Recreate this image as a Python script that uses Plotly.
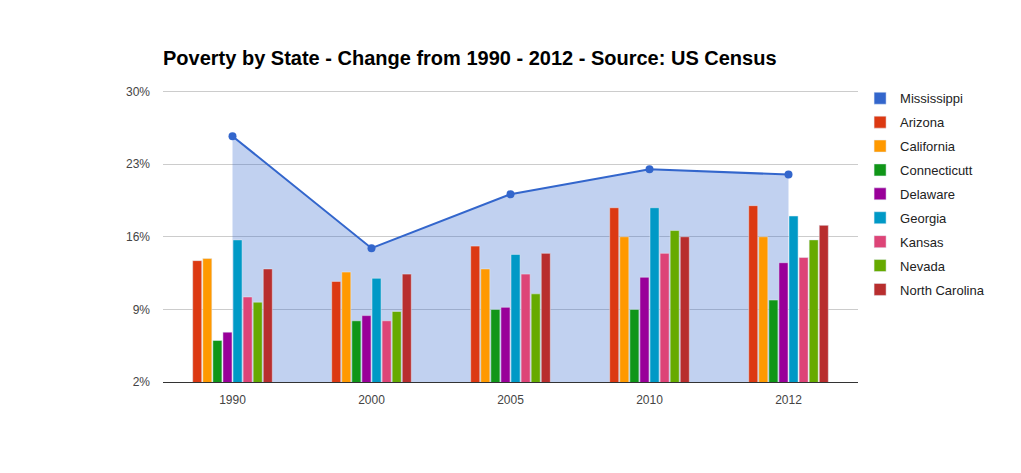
import plotly.graph_objects as go

years = ["1990", "2000", "2005", "2010", "2012"]
mississippi = [25.7, 14.9, 20.1, 22.5, 22.0]
arizona = [13.7, 11.7, 15.1, 18.8, 19.0]
california = [13.9, 12.6, 12.9, 16.0, 16.0]
connecticut = [6.0, 7.9, 9.0, 9.0, 9.9]
delaware = [6.8, 8.4, 9.2, 12.1, 13.5]
georgia = [15.7, 12.0, 14.3, 18.8, 18.0]
kansas = [10.2, 7.9, 12.4, 14.4, 14.0]
nevada = [9.7, 8.8, 10.5, 16.6, 15.7]
north_carolina = [12.9, 12.4, 14.4, 16.0, 17.1]

bar_series = [
    ("Arizona", arizona, "#dc3912"),
    ("California", california, "#ff9900"),
    ("Connecticutt", connecticut, "#109618"),
    ("Delaware", delaware, "#990099"),
    ("Georgia", georgia, "#0099c6"),
    ("Kansas", kansas, "#dd4477"),
    ("Nevada", nevada, "#66aa00"),
    ("North Carolina", north_carolina, "#b82e2e"),
]

tick_vals = [2, 9, 16, 23, 30]
tick_text = ["2%", "9%", "16%", "23%", "30%"]
y_range = [2, 30.15]

fig = go.Figure()

# Mississippi area (drawn on base axis so bars overlay it)
fig.add_trace(go.Scatter(
    x=years, y=mississippi, name="Mississippi", mode="lines+markers",
    line=dict(color="#3366cc", width=2), marker=dict(color="#3366cc", size=8),
    fill="tozeroy", fillcolor="rgba(51,102,204,0.3)",
    showlegend=False, hoverinfo="x+y+name",
))
# legend entry for Mississippi as a square swatch
fig.add_trace(go.Bar(
    x=[None], y=[None], name="Mississippi", marker_color="#3366cc",
    legendgroup="g0", showlegend=True,
))

for i, (name, vals, color) in enumerate(bar_series):
    fig.add_trace(go.Bar(
        x=years, y=vals, name=name, marker_color=color,
        yaxis="y2", legendgroup=f"g{i+1}",
    ))

fig.update_layout(
    width=1021, height=473,
    paper_bgcolor="white", plot_bgcolor="white",
    margin=dict(l=163, r=163, t=90, b=91),
    font=dict(family="Liberation Sans, Arial, sans-serif", size=12, color="#444"),
    title=dict(
        text="<b>Poverty by State - Change from 1990 - 2012 - Source: US Census</b>",
        x=163 / 1021, xanchor="left", xref="container",
        y=1 - 58 / 473, yanchor="middle", yref="container",
        font=dict(family="Liberation Sans, Arial, sans-serif", size=20, color="#000"),
    ),
    barmode="group", bargap=0.42, bargroupgap=0.1,
    xaxis=dict(
        type="category", range=[-0.5, 4.5], showgrid=False,
        showline=True, linecolor="#333", linewidth=1, ticks="",
        tickfont=dict(size=12, color="#444"), ticklabelstandoff=7,
    ),
    yaxis=dict(
        range=y_range, tickvals=tick_vals, ticktext=tick_text,
        showgrid=True, gridcolor="#cccccc", gridwidth=1, zeroline=False,
        showline=False, ticks="", tickfont=dict(size=12, color="#444"),
        ticklabelstandoff=12,
    ),
    yaxis2=dict(
        overlaying="y", matches="y", visible=False, range=y_range,
    ),
    legend=dict(
        x=1.003, xanchor="left", y=1.023, yanchor="top",
        traceorder="grouped", tracegroupgap=4,
        font=dict(size=13, color="#222"),
        bgcolor="rgba(0,0,0,0)",
    ),
    showlegend=True,
)

fig.write_html(
    "out.html",
    config={"displayModeBar": False},
    post_script="document.body.style.margin='0';",
)
